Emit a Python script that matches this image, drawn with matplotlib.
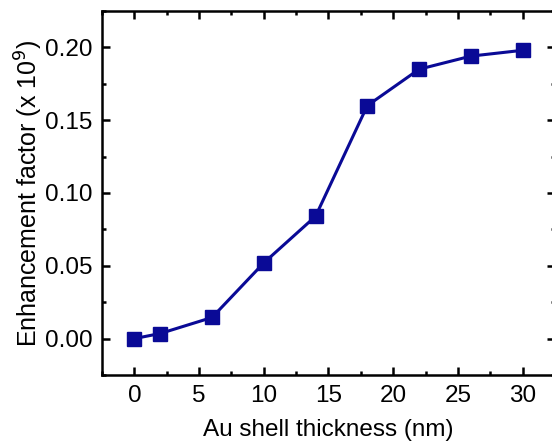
import matplotlib
matplotlib.use("Agg")
import matplotlib.pyplot as plt
from matplotlib.ticker import MultipleLocator

thickness = [0, 2, 6, 10, 14, 18, 22, 26, 30]
enhancement = [0.0, 0.0035, 0.0145, 0.052, 0.084, 0.160, 0.185, 0.194, 0.198]

plt.rcParams['font.family'] = ['Liberation Sans', 'DejaVu Sans']
fig = plt.figure(figsize=(5.52, 4.43), dpi=100)
ax = fig.add_axes([0.1848, 0.1535, 0.8206, 0.8217])
color = '#0a0a96'
ax.plot(thickness, enhancement, '-s', color=color, lw=2.2, ms=10, mec=color, mfc=color)
ax.set_xlim(-2.5, 32.5)
ax.set_ylim(-0.025, 0.225)
ax.xaxis.set_major_locator(MultipleLocator(5))
ax.xaxis.set_minor_locator(MultipleLocator(2.5))
ax.yaxis.set_major_locator(MultipleLocator(0.05))
ax.yaxis.set_minor_locator(MultipleLocator(0.025))
ax.yaxis.set_major_formatter(matplotlib.ticker.FormatStrFormatter('%.2f'))
ax.tick_params(which='both', direction='in', top=True, right=True, width=1.8, labelsize=17.5)
ax.tick_params(which='major', length=6, pad=7)
ax.tick_params(which='minor', length=3)
for s in ax.spines.values():
    s.set_linewidth(1.8)
ax.set_xlabel('Au shell thickness (nm)', fontsize=17.5, labelpad=9)
ax.set_ylabel('Enhancement factor (x 10$^9$)', fontsize=18, labelpad=0)
fig.savefig('out.png', dpi=100)
